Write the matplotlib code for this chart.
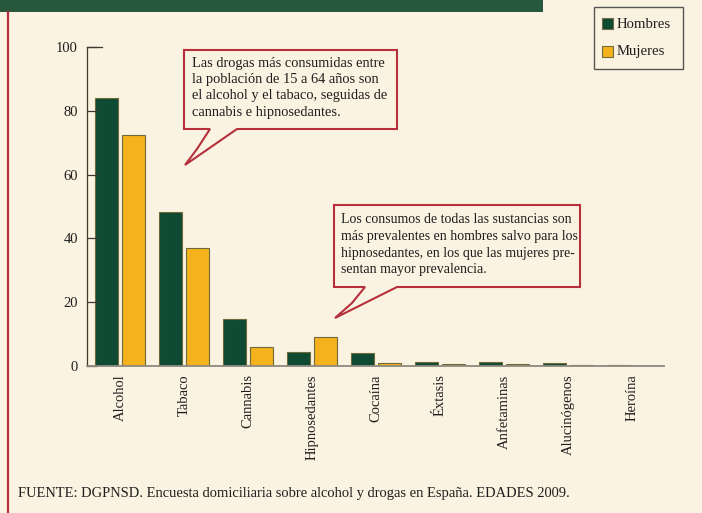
import matplotlib
matplotlib.use("Agg")
import matplotlib.pyplot as plt
from matplotlib.patches import Rectangle, Polygon
from matplotlib.lines import Line2D
import numpy as np

plt.rcParams["font.family"] = ["Liberation Serif", "DejaVu Serif"]

# ── datos: prevalencia de consumo (%) por sexo ─────────────
sustancias = ["Alcohol", "Tabaco", "Cannabis", "Hipnosedantes", "Cocaína",
              "Éxtasis", "Anfetaminas", "Alucinógenos", "Heroína"]
hombres = [84.1, 48.3, 14.6, 4.5, 4.2, 1.4, 1.1, 0.8, 0.2]
mujeres = [72.4, 36.9, 6.0, 9.2, 1.0, 0.5, 0.5, 0.4, 0.15]
yticks = [0, 20, 40, 60, 80, 100]

nota1 = ("Las drogas más consumidas entre\nla población de 15 a 64 años son\n"
         "el alcohol y el tabaco, seguidas de\ncannabis e hipnosedantes.")
nota2 = ("Los consumos de todas las sustancias son\nmás prevalentes en hombres salvo para los\n"
         "hipnosedantes, en los que las mujeres pre-\nsentan mayor prevalencia.")
fuente = "FUENTE: DGPNSD. Encuesta domiciliaria sobre alcohol y drogas en España. EDADES 2009."

BG = "#FBF3E1"
VERDE = "#0F4A33"
AMARILLO = "#F4B21C"
BORDE = "#6E6A3C"
ROJO = "#B5303C"
TEXTO = "#1e1e1e"

W, H = 702, 513
fig = plt.figure(figsize=(W / 100, H / 100), dpi=100, facecolor=BG)


def fx(x):
    return x / W


def fy(y):
    return 1 - y / H


# ejes en píxeles: x 87..664, y 47..366
ax = fig.add_axes([fx(87), fy(366), fx(664) - fx(87), fy(47) - fy(366)])
ax.set_facecolor(BG)

x = np.arange(len(sustancias))
ancho = 0.36
ax.bar(x - 0.205, hombres, ancho, color=VERDE, edgecolor=BORDE, linewidth=0.8)
ax.bar(x + 0.205, mujeres, ancho, color=AMARILLO, edgecolor=BORDE, linewidth=0.8)

ax.set_xlim(-0.516, 8.5)
ax.set_ylim(0, 100)
ax.set_yticks(yticks)
ax.set_yticklabels([str(t) for t in yticks], fontsize=10.5, color=TEXTO)
ax.tick_params(axis="y", direction="in", length=7, width=0.9, color="#3a3a30", pad=6.5)
ax.set_xticks(x)
ax.set_xticklabels(sustancias, rotation=90, fontsize=10.5, color=TEXTO, va="top")
ax.tick_params(axis="x", length=0, pad=6)

for s in ["top", "right"]:
    ax.spines[s].set_visible(False)
ax.spines["left"].set_color("#3a3a30")
ax.spines["left"].set_linewidth(0.9)
ax.spines["bottom"].set_color("#8c8a80")
ax.spines["bottom"].set_linewidth(1.3)
# remate superior del eje y
fig.add_artist(Line2D([fx(87), fx(102)], [fy(47), fy(47)], color="#3a3a30", lw=0.9))

# banda verde superior y filete rojo lateral
fig.add_artist(Rectangle((0, fy(12)), fx(543), 1 - fy(12), color="#27583E", lw=0))
fig.add_artist(Line2D([fx(8), fx(8)], [fy(12), 0], color=ROJO, lw=1.6))

# leyenda
fig.add_artist(Rectangle((fx(594), fy(69)), fx(683) - fx(594), fy(7) - fy(69),
                         facecolor=BG, edgecolor="#555555", lw=1.0))
for (yy, col, lab) in [(18, VERDE, "Hombres"), (46, AMARILLO, "Mujeres")]:
    fig.add_artist(Rectangle((fx(602), fy(yy + 11)), fx(11), 11 / H,
                             facecolor=col, edgecolor=BORDE, lw=0.8))
    fig.text(fx(617), fy(yy + 6), lab, fontsize=10.6, va="center", ha="left", color=TEXTO)


# globos de texto
def globo(caja, pico, texto, tx, ty, fs, ls):
    x0, y0, x1, y1 = caja
    pts = [(x0, y0), (x1, y0), (x1, y1), (pico[3][0], y1), pico[2], pico[1],
           (pico[0][0], y1), (x0, y1)]
    fig.add_artist(Polygon([(fx(a), fy(b)) for a, b in pts], closed=True,
                           facecolor=BG, edgecolor=ROJO, lw=1.5))
    fig.text(fx(tx), fy(ty), texto, fontsize=fs, va="top", ha="left",
             linespacing=ls, color=TEXTO)


globo((184, 50, 397, 129), [(210, 129), (197, 149), (185, 165), (237, 129)],
      nota1, 192, 57, 10.4, 1.32)
globo((334, 205, 580, 287), [(365, 287), (352, 303), (335, 318), (397, 287)],
      nota2, 341, 213, 10.0, 1.38)

fig.text(fx(18), fy(493), fuente, fontsize=10.45, va="center", ha="left", color=TEXTO)

fig.savefig("out.png", dpi=100, facecolor=BG)
